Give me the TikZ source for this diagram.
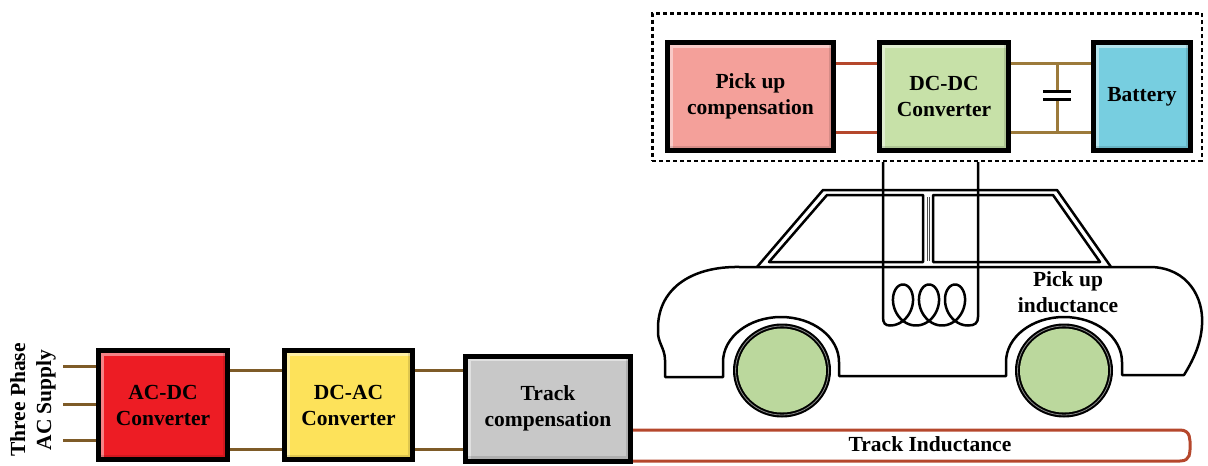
\documentclass[tikz,border=0pt]{standalone}
\usepackage{fontspec}
\setmainfont{Liberation Serif}
\usetikzlibrary{backgrounds}

\definecolor{acdcred}{HTML}{ED1C24}
\definecolor{dcacyellow}{HTML}{FDE25A}
\definecolor{trackgray}{HTML}{C8C8C8}
\definecolor{pickpink}{HTML}{F4A09A}
\definecolor{dcdcgreen}{HTML}{C7E1A8}
\definecolor{battcyan}{HTML}{77CEE0}
\definecolor{wheelgreen}{HTML}{BBD89D}
\definecolor{wirebrown}{HTML}{7E5B28}
\definecolor{wirerust}{HTML}{B5472C}
\definecolor{wiretan}{HTML}{9C7A3B}

\begin{document}
\begin{tikzpicture}[x=1pt,y=-1pt,
  lbl/.style={font=\fontsize{21.5}{26}\selectfont\bfseries, align=center, inner sep=0pt},
  blk/.style={lbl, draw=black, line width=5pt,
    path picture={
      \draw[white, opacity=.45, line width=10pt]
        (path picture bounding box.south west) -- (path picture bounding box.north west)
        -- (path picture bounding box.north east);
      \draw[black, opacity=.12, line width=10pt]
        (path picture bounding box.north east) -- (path picture bounding box.south east)
        -- (path picture bounding box.south west);
    }},
  wire/.style={draw=wirebrown, line width=3pt},
  rustwire/.style={draw=wirerust, line width=3pt},
  tanwire/.style={draw=wiretan, line width=3pt},
  carline/.style={draw=black, line width=2.5pt, line join=round},
  coilwire/.style={draw=black, line width=2.5pt, line join=round}]
\useasboundingbox (0,0) rectangle (1208,466);

% ---- ground side chain ----
\node[blk, fill=acdcred, minimum width=129pt, minimum height=109pt] (acdc) at (163,405) {AC-DC\\Converter};
\node[blk, fill=dcacyellow, minimum width=128pt, minimum height=109pt] (dcac) at (348.5,405) {DC-AC\\Converter};
\node[blk, fill=trackgray, minimum width=165pt, minimum height=105pt] (track) at (548,408.5) {Track\\compensation};
\node[lbl, rotate=90] (supply) at (33,400) {Three Phase\\AC Supply};

\coordinate (in1) at (63,366);
\coordinate (in2) at (63,404);
\coordinate (in3) at (63,440);
\coordinate (ra) at (0,370);
\coordinate (rb) at (0,449);
\coordinate (ta) at (0,430);
\coordinate (tb) at (0,461);
\coordinate (tend) at (1190,446);

\begin{scope}[on background layer]
  \draw[wire] (in1) -- (acdc.west |- in1);
  \draw[wire] (in2) -- (acdc.west |- in2);
  \draw[wire] (in3) -- (acdc.west |- in3);
  \draw[wire] (acdc.east |- ra) -- (dcac.west |- ra);
  \draw[wire] (acdc.east |- rb) -- (dcac.west |- rb);
  \draw[wire] (dcac.east |- ra) -- (track.west |- ra);
  \draw[wire] (dcac.east |- rb) -- (track.west |- rb);
  % track inductance loop
  \draw[rustwire, line join=round] (track.east |- ta) -- (1180,430)
    .. controls (1191,430) and (1190,440) .. (tend)
    .. controls (1190,452) and (1191,461) .. (1180,461) -- (track.east |- tb);
\end{scope}
\node[lbl] (trackL) at (930,444) {Track Inductance};

% ---- vehicle side ----
\node[draw=black, line width=2.5pt, dash pattern=on 4pt off 3pt, minimum width=549.5pt, minimum height=147.5pt, inner sep=0pt] (onboard) at (927,87) {};
\node[blk, fill=pickpink, minimum width=166pt, minimum height=108pt] (pick) at (750.5,96.5) {Pick up\\compensation};
\node[blk, fill=dcdcgreen, minimum width=129pt, minimum height=108pt] (dcdc) at (944,96.5) {DC-DC\\Converter};
\node[blk, fill=battcyan, minimum width=97pt, minimum height=108pt] (batt) at (1142,96.5) {Battery};

\coordinate (ua) at (0,63);
\coordinate (ub) at (0,132);
\coordinate (capT) at (1057,91);
\coordinate (capB) at (1057,99);
\begin{scope}[on background layer]
  \draw[rustwire] (pick.east |- ua) -- (dcdc.west |- ua);
  \draw[rustwire] (pick.east |- ub) -- (dcdc.west |- ub);
  \draw[tanwire] (dcdc.east |- ua) -- (batt.west |- ua);
  \draw[tanwire] (dcdc.east |- ub) -- (batt.west |- ub);
  \draw[tanwire] (capT |- ua) -- (capT);
  \draw[tanwire] (capB) -- (capB |- ub);
\end{scope}
% capacitor plates
\draw[line width=3pt] ([xshift=-14pt]capT) -- ([xshift=14pt]capT);
\draw[line width=3pt] ([xshift=-14pt]capB) -- ([xshift=14pt]capB);

% car body
\draw[carline] (740,267) -- (1151,267)
  .. controls (1188,268) and (1204,298) .. (1202,325)
  .. controls (1201,345) and (1192,362) .. (1184,375)
  -- (1122,375) -- (1122,362) arc[start angle=0, end angle=-180, x radius=58, y radius=45]
  -- (1006,376) -- (839,376) -- (839,362) arc[start angle=0, end angle=-180, x radius=58, y radius=45]
  -- (723,377) -- (665,377) -- (665,360)
  .. controls (665,348) and (657,342) .. (658,330)
  .. controls (657,290) and (690,266) .. (740,267) -- cycle;
% roof and windows
\draw[carline] (757,267) -- (823,190) -- (1057,190) -- (1111,267);
\draw[carline] (769,262) -- (827,195) -- (923,195) -- (923,262) -- cycle;
\draw[carline] (933,262) -- (933,195) -- (1053,195) -- (1100,262) -- cycle;
\draw[line width=0.8pt, black!70] (927.2,197) -- (927.2,261);
\draw[line width=0.8pt, black!70] (929.6,197) -- (929.6,261);
% wheels
\foreach \cx in {782,1064} {
  \fill[black] (\cx,370.5) ellipse[x radius=49, y radius=47];
  \draw[black!45, line width=0.8pt] (\cx,370.5) ellipse[x radius=46.5, y radius=44.5];
  \fill[wheelgreen] (\cx,370.5) ellipse[x radius=44, y radius=42];
}
% pick-up coil
\draw[coilwire] (883,0 |- onboard.south) -- (883,317)
  .. controls (883,323) and (885,325.5) .. (890,325.5)
  -- plot[domain=-pi:5*pi, samples=260, variable=\t]
     ({903 + 4.14*\t - 16*sin(\t r)}, {305 - 20.5*cos(\t r)})
  .. controls (975,325.5) and (978,323) .. (978,317)
  -- (978,0 |- onboard.south);
\node[lbl] (pickL) at (1068,292) {Pick up\\inductance};
\end{tikzpicture}
\end{document}
